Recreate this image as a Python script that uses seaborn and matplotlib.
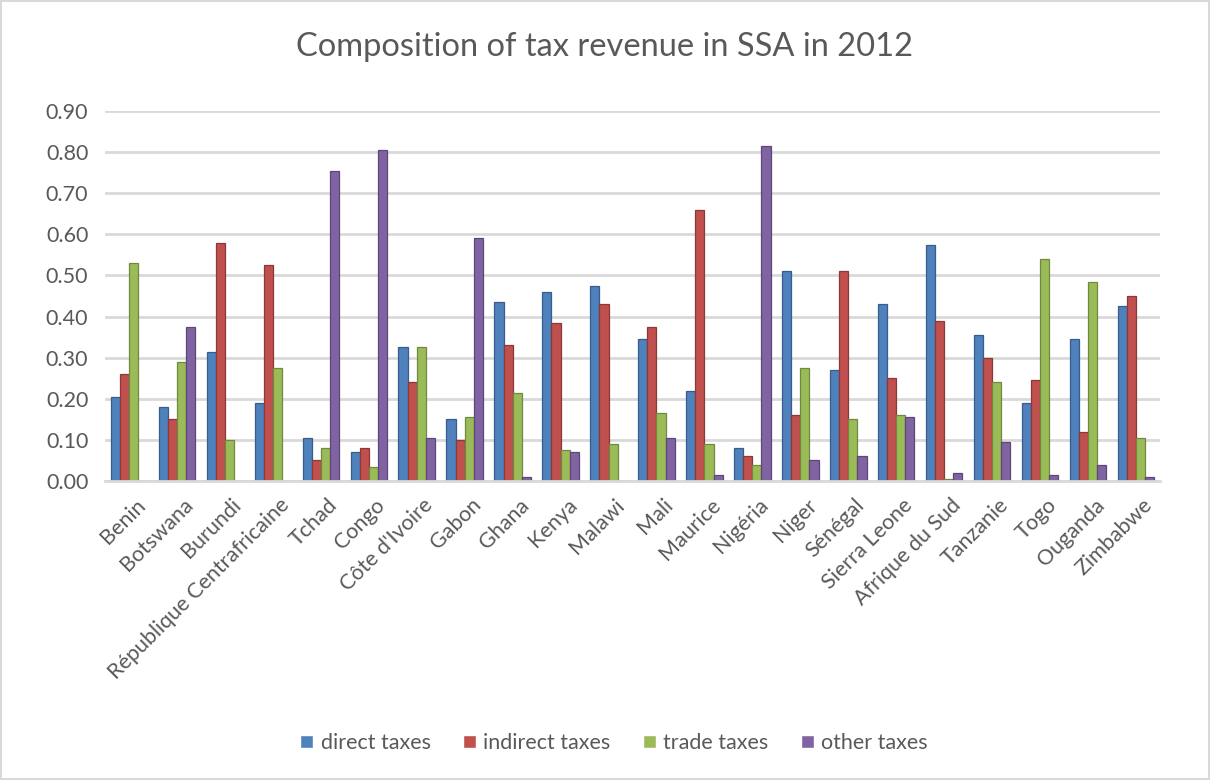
import numpy as np
import pandas as pd
import matplotlib
matplotlib.use("Agg")
import matplotlib.pyplot as plt
import matplotlib.transforms as mtransforms
import seaborn as sns

countries = ["Benin", "Botswana", "Burundi", "République Centrafricaine", "Tchad", "Congo",
             "Côte d'Ivoire", "Gabon", "Ghana", "Kenya", "Malawi", "Mali", "Maurice",
             "Nigéria", "Niger", "Sénégal", "Sierra Leone", "Afrique du Sud", "Tanzanie",
             "Togo", "Ouganda", "Zimbabwe"]
direct = [0.205, 0.18, 0.315, 0.19, 0.105, 0.07, 0.325, 0.15, 0.435, 0.46, 0.475, 0.345,
          0.22, 0.08, 0.51, 0.27, 0.43, 0.575, 0.355, 0.19, 0.345, 0.425]
indirect = [0.26, 0.15, 0.58, 0.525, 0.05, 0.08, 0.24, 0.10, 0.33, 0.385, 0.43, 0.375,
            0.66, 0.06, 0.16, 0.51, 0.25, 0.39, 0.30, 0.245, 0.12, 0.45]
trade = [0.53, 0.29, 0.10, 0.275, 0.08, 0.035, 0.325, 0.155, 0.215, 0.075, 0.09, 0.165,
         0.09, 0.04, 0.275, 0.15, 0.16, 0.005, 0.24, 0.54, 0.485, 0.105]
other = [0.0, 0.375, 0.0, 0.0, 0.755, 0.805, 0.105, 0.59, 0.01, 0.07, 0.0, 0.105,
         0.015, 0.815, 0.05, 0.06, 0.155, 0.02, 0.095, 0.015, 0.04, 0.01]
series_names = ["direct taxes", "indirect taxes", "trade taxes", "other taxes"]
colors = ["#4F81BD", "#C0504D", "#9BBB59", "#8064A2"]
edges = ["#385D8A", "#8C3836", "#71893F", "#5C4776"]

df = pd.DataFrame({
    "country": countries * 4,
    "value": direct + indirect + trade + other,
    "series": [s for s in series_names for _ in countries],
})

sns.set_style("white")
plt.rcParams['font.family'] = ['Lato', 'DejaVu Sans']

fig = plt.figure(figsize=(12.1, 7.8), dpi=100)
fig.patch.set_edgecolor("#D9D9D9")
fig.patch.set_linewidth(1.5)
ax = fig.add_axes([105/1210, 1-481/780, (1160-105)/1210, (481-111)/780])

sns.barplot(data=df, x="country", y="value", hue="series", palette=colors,
            width=0.76, ax=ax, saturation=1, legend=True)

for i, cont in enumerate(ax.containers):
    for bar in cont:
        bar.set_edgecolor(edges[i])
        bar.set_linewidth(0.9)

ax.set_ylim(0, 0.9)
ax.set_xlim(-0.5, len(countries) - 0.5)
ax.set_yticks(np.arange(0, 0.91, 0.1))
ax.set_yticklabels([f"{v:.2f}" for v in np.arange(0, 0.91, 0.1)], fontsize=15.5, color="#595959")
ax.yaxis.grid(True, color="#D9D9D9", linewidth=2)
ax.set_axisbelow(True)
for s in ["top", "right", "left"]:
    ax.spines[s].set_visible(False)
ax.spines["bottom"].set_color("#D9D9D9")
ax.spines["bottom"].set_linewidth(2)
ax.tick_params(axis="y", length=0, pad=12)
ax.tick_params(axis="x", length=0, pad=10)
ax.set_xticks(range(len(countries)))
ax.set_xticklabels(countries, rotation=45, ha="right", rotation_mode="anchor",
                   fontsize=15.5, color="#595959")
offset = mtransforms.ScaledTranslation(6/100, 0, fig.dpi_scale_trans)
for lbl in ax.get_xticklabels():
    lbl.set_transform(lbl.get_transform() + offset)
ax.set_xlabel("")
ax.set_ylabel("")

fig.text(0.5, 1-47/780, "Composition of tax revenue in SSA in 2012", ha="center", va="center",
         fontsize=23.5, color="#595959")

handles, labels = ax.get_legend_handles_labels()
ax.get_legend().remove()
fig.legend(handles, labels, loc="center", bbox_to_anchor=(614/1210, 1-743/780), ncol=4,
           frameon=False, fontsize=15.5, handlelength=0.6, handleheight=0.6,
           columnspacing=1.5, handletextpad=0.35, labelcolor="#595959")

fig.savefig("out.png", dpi=100)
